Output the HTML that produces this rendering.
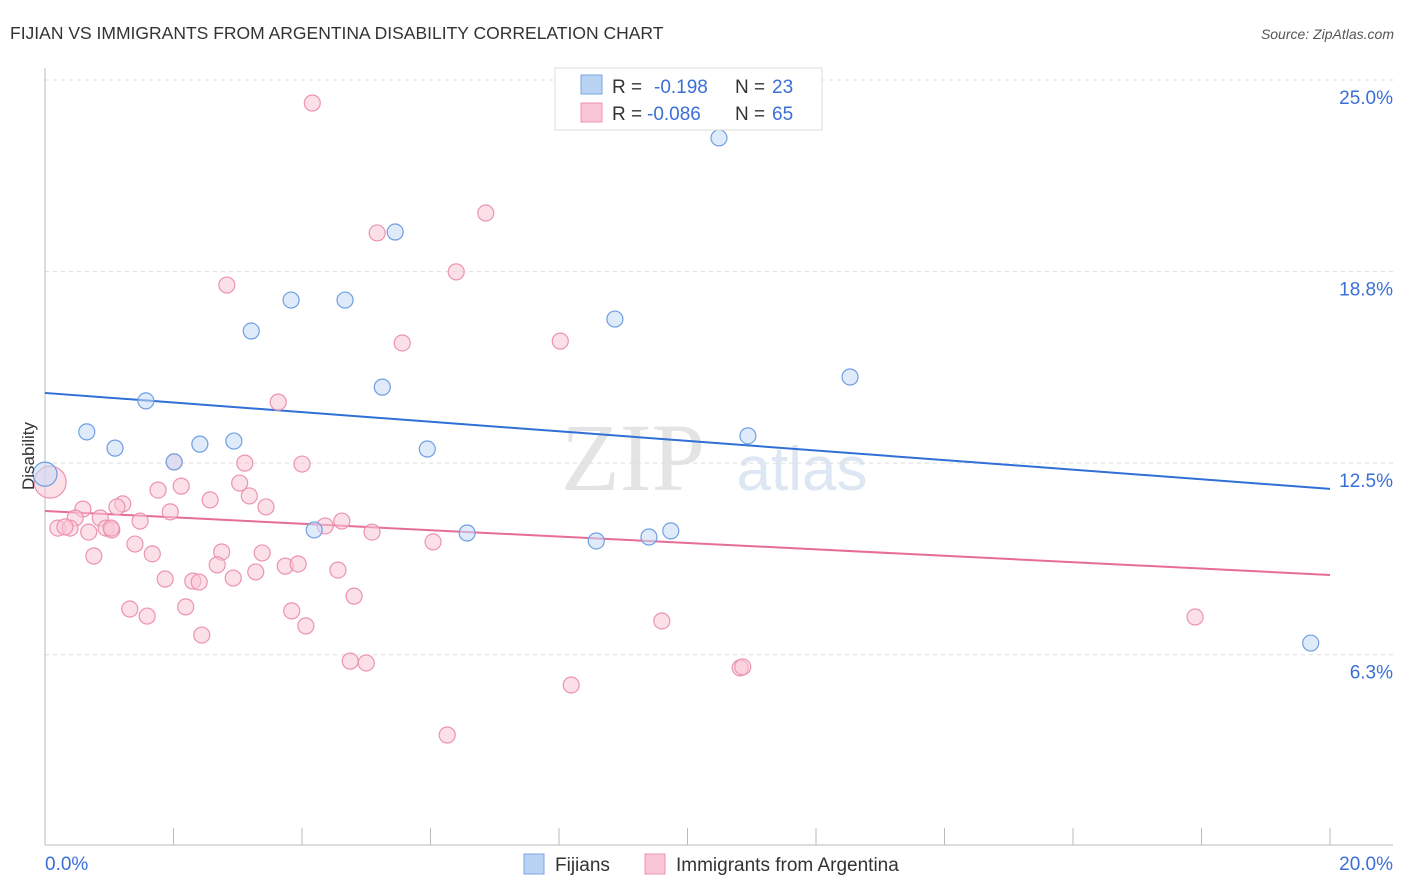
<!DOCTYPE html>
<html><head><meta charset="utf-8"><style>
body{margin:0;background:#fff;font-family:"Liberation Sans",sans-serif}
svg{display:block}
</style></head><body>
<svg width="1406" height="892" xmlns="http://www.w3.org/2000/svg" id="chart">
<text x="10" y="39" font-size="17.5" fill="#333">FIJIAN VS IMMIGRANTS FROM ARGENTINA DISABILITY CORRELATION CHART</text>
<text x="1394" y="39" font-size="14" fill="#555" font-style="italic" text-anchor="end">Source: ZipAtlas.com</text>
<text x="633" y="490" font-size="96" fill="#e4e4e4" font-family="Liberation Serif" text-anchor="middle">ZIP</text>
<text x="802" y="490" font-size="62" fill="#dde6f3" text-anchor="middle">atlas</text>
<g id="grid"></g><g id="axes"></g><g id="lines"></g><g id="pts"></g>
<text x="34" y="456" font-size="17" fill="#333" text-anchor="middle" transform="rotate(-90 34 456)">Disability</text>
<g>
<rect x="555" y="68" width="267" height="62" fill="#fff" stroke="#ddd"/>
<rect x="581" y="75" width="21" height="19" fill="#b9d3f5" stroke="#7aa6e0"/>
<text x="612" y="93" font-size="19" fill="#333">R =</text>
<text x="654" y="93" font-size="19" fill="#3a6fd8">-0.198</text>
<text x="735" y="93" font-size="19" fill="#333">N =</text>
<text x="772" y="93" font-size="19" fill="#3a6fd8">23</text>
<rect x="581" y="103" width="21" height="19" fill="#f9c6d6" stroke="#ec93b0"/>
<text x="612" y="120" font-size="19" fill="#333">R =</text>
<text x="647" y="120" font-size="19" fill="#3a6fd8">-0.086</text>
<text x="735" y="120" font-size="19" fill="#333">N =</text>
<text x="772" y="120" font-size="19" fill="#3a6fd8">65</text>
</g>
<g>
<rect x="524" y="854" width="20" height="20" fill="#b9d3f5" stroke="#7aa6e0"/>
<text x="555" y="871" font-size="19" fill="#333">Fijians</text>
<rect x="645" y="854" width="20" height="20" fill="#f9c6d6" stroke="#ec93b0"/>
<text x="676" y="871" font-size="19" fill="#333">Immigrants from Argentina</text>
</g>
</svg>
<script>
const yTicks=[25.0,18.8,12.5,6.3];
const yTickVals=[25,18.75,12.5,6.25];
const xTickLabels=["0.0%","20.0%"];
const blueX=[0,0.65,1.09,1.57,2.01,2.41,2.94,3.21,3.83,4.19,4.67,5.25,5.45,5.95,6.57,8.58,8.87,9.40,9.74,10.49,10.94,12.53,19.70];
const blueY=[12.14,13.52,12.99,14.53,12.54,13.12,13.22,16.81,17.82,10.32,17.82,14.98,20.04,12.96,10.22,9.96,17.20,10.09,10.29,23.11,13.39,15.31,6.63];
const pinkX=[4.16,6.86,5.17,6.40,2.83,8.02,5.56,3.63,2.01,3.11,4.00,0.08,1.76,2.12,3.03,2.57,3.18,1.21,1.12,0.59,3.44,1.95,1.48,0.86,0.47,0.20,0.39,0.68,0.95,1.04,4.62,4.36,5.09,6.04,1.40,0.76,1.67,2.75,3.38,2.68,3.28,3.74,3.94,4.56,1.87,2.30,2.40,2.93,4.81,1.32,2.19,1.59,3.84,4.06,9.60,17.90,2.44,4.75,5.00,10.82,10.86,8.19,6.26,0.31,1.03];
const pinkY=[24.25,20.66,20.01,18.74,18.31,16.48,16.42,14.49,12.54,12.50,12.47,11.88,11.62,11.75,11.85,11.30,11.43,11.17,11.07,11.00,11.07,10.91,10.61,10.71,10.71,10.38,10.38,10.25,10.38,10.32,10.61,10.45,10.25,9.93,9.86,9.47,9.54,9.60,9.57,9.18,8.95,9.14,9.21,9.01,8.72,8.65,8.62,8.75,8.16,7.74,7.81,7.51,7.68,7.19,7.35,7.48,6.89,6.04,5.98,5.82,5.85,5.26,3.63,10.42,10.38];
const blueTrend=[14.79,11.66];
const pinkTrend=[10.94,8.85];
const NS="http://www.w3.org/2000/svg";
const X=v=>45+v/20*1285, Y=v=>80+(25-v)*30.65;
function mk(t,a,p){const e=document.createElementNS(NS,t);for(const k in a)e.setAttribute(k,a[k]);p.appendChild(e);return e;}
const grid=document.getElementById('grid'),axes=document.getElementById('axes'),lines=document.getElementById('lines'),pts=document.getElementById('pts');
yTickVals.forEach((v,i)=>{
 const l=mk('line',{x1:45,x2:1393,y1:Y(v),y2:Y(v),stroke:'#ddd','stroke-dasharray':'4,4'},grid);
 
 
 const t=mk('text',{x:1393,y:Y(v)+24,'font-size':19,fill:'#3a6fd8','text-anchor':'end'},grid);
 t.textContent=yTicks[i].toFixed(1)+'%';
 
 
});
const ax=mk('line',{x1:45,x2:1393,y1:845,y2:845,stroke:'#bbb'},axes);


const ay=mk('line',{x1:45,x2:45,y1:68,y2:845,stroke:'#bbb'},axes);


for(let i=0;i<=10;i++){
 const t=mk('line',{x1:X(i*2),x2:X(i*2),y1:828,y2:845,stroke:'#bbb'},axes);
 
 
}
[[0,'start',45],[20,'end',1393]].forEach((d,i)=>{
 const t=mk('text',{x:d[2],y:870,'font-size':19,fill:'#3a6fd8','text-anchor':d[1]},axes);
 t.textContent=xTickLabels[i];
 
 
});
function drawPts(xs,ys,fill,stroke,name){
 xs.forEach((x,i)=>{
  const big=(x<0.1);
  const c=mk('circle',{cx:X(x),cy:Y(ys[i]),r:big?(name==='fijian-point'?12:16):8,fill:fill,'fill-opacity':0.55,stroke:stroke,'stroke-width':1.2},pts);
  
  
 });
}
drawPts(pinkX,pinkY,'#f9c6d6','#ec93b0','argentina-point');
drawPts(blueX,blueY,'#c5dbf7','#6f9fe0','fijian-point');
const bl=mk('line',{x1:X(0),x2:X(20),y1:Y(blueTrend[0]),y2:Y(blueTrend[1]),stroke:'#2f6fd6','stroke-width':2},lines);


const pl=mk('line',{x1:X(0),x2:X(20),y1:Y(pinkTrend[0]),y2:Y(pinkTrend[1]),stroke:'#e66d98','stroke-width':2},lines);


</script>
</body></html>
